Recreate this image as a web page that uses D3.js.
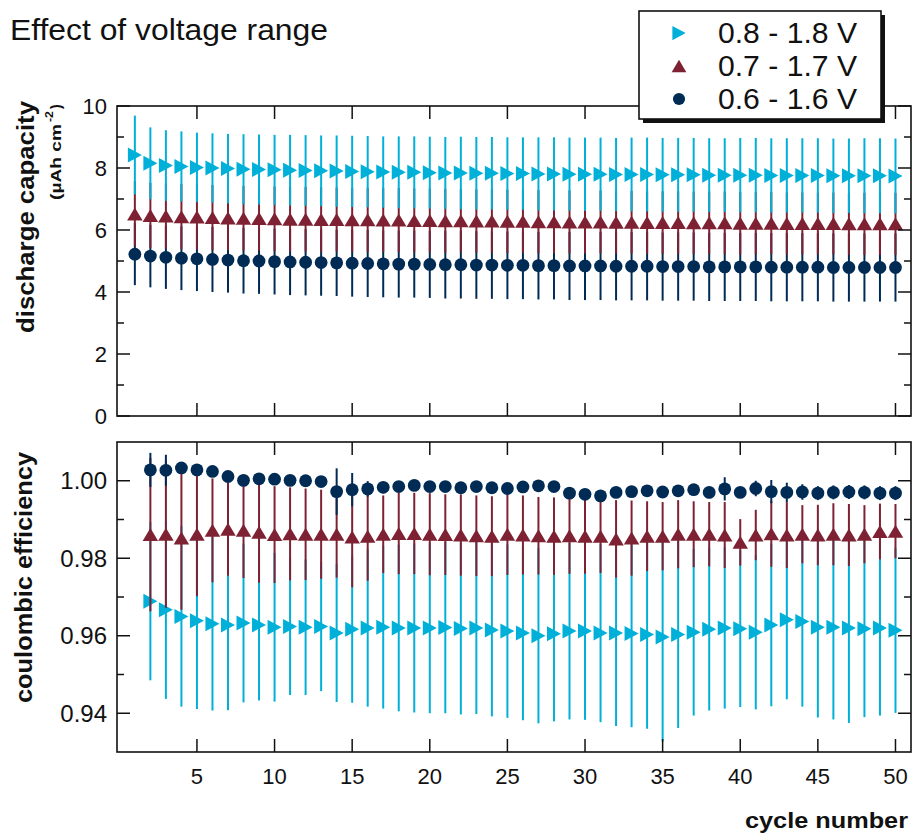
<!DOCTYPE html>
<html>
<head>
<meta charset="utf-8">
<script src="https://cdn.jsdelivr.net/npm/d3@7/dist/d3.min.js"></script>
<style>
  html, body { margin: 0; padding: 0; background: #fff; }
  svg { display: block; }
  text { font-family: "Liberation Sans", Arial, Helvetica, sans-serif; fill: #111; }
</style>
</head>
<body>
<svg id="chart" width="913" height="833"></svg>
<script>
// ---- data ---------------------------------------------------------------
const seriesNames = ["0.8 - 1.8 V", "0.7 - 1.7 V", "0.6 - 1.6 V"];
const seriesColors = ["#00b0d8", "#7e2233", "#002b55"];

// discharge capacity, cycles 1..50 (µAh cm^-2)
const capCycles = d3.range(1, 51);
const capHigh = [8.42,8.15,8.08,8.05,8.02,8.00,7.98,7.96,7.95,7.94,7.93,7.92,7.91,7.90,7.89,7.88,7.87,7.86,7.86,7.85,
                 7.84,7.84,7.83,7.83,7.82,7.82,7.81,7.81,7.80,7.80,7.80,7.79,7.79,7.79,7.78,7.78,7.78,7.77,7.77,7.77,
                 7.77,7.76,7.76,7.76,7.76,7.75,7.75,7.75,7.75,7.74];
const capHighErr = [1.27,1.16,1.14,1.13,1.12,1.12,1.12,1.13,1.13,1.13,1.14,1.14,1.14,1.15,1.15,1.15,1.15,1.16,1.16,1.16,
                    1.16,1.17,1.17,1.17,1.17,1.17,1.18,1.18,1.18,1.18,1.18,1.18,1.19,1.19,1.19,1.19,1.19,1.19,1.19,1.20,
                    1.20,1.20,1.20,1.20,1.20,1.20,1.20,1.21,1.21,1.21];
const capMid = [6.52,6.47,6.45,6.43,6.42,6.40,6.39,6.38,6.37,6.36,6.35,6.35,6.34,6.34,6.33,6.33,6.32,6.32,6.31,6.31,
                6.30,6.30,6.29,6.29,6.28,6.28,6.27,6.27,6.26,6.26,6.26,6.25,6.25,6.24,6.24,6.24,6.23,6.23,6.23,6.22,
                6.22,6.22,6.21,6.21,6.21,6.21,6.20,6.20,6.20,6.20];
const capMidErr = [1.05,1.05,1.05,1.05,1.05,1.05,1.04,1.04,1.04,1.04,1.04,1.04,1.04,1.03,1.03,1.03,1.03,1.03,1.03,1.03,
                   1.03,1.02,1.02,1.02,1.02,1.02,1.02,1.02,1.02,1.02,1.01,1.01,1.01,1.01,1.01,1.01,1.01,1.01,1.01,1.01,
                   1.00,1.00,1.00,1.00,1.00,1.00,1.00,1.00,1.00,1.00];
const capLow = [5.22,5.16,5.12,5.09,5.07,5.05,5.03,5.01,5.00,4.98,4.97,4.96,4.95,4.94,4.93,4.92,4.91,4.90,4.90,4.89,
                4.88,4.88,4.87,4.87,4.86,4.86,4.85,4.85,4.84,4.84,4.84,4.83,4.83,4.83,4.82,4.82,4.82,4.81,4.81,4.81,
                4.81,4.80,4.80,4.80,4.80,4.79,4.79,4.79,4.79,4.79];
const capLowErr = [1.00,1.01,1.02,1.03,1.04,1.05,1.05,1.06,1.06,1.06,1.07,1.07,1.07,1.07,1.08,1.08,1.08,1.08,1.08,1.08,
                   1.09,1.09,1.09,1.09,1.09,1.09,1.09,1.09,1.10,1.10,1.10,1.10,1.10,1.10,1.10,1.10,1.10,1.10,1.10,1.10,
                   1.10,1.10,1.10,1.10,1.10,1.10,1.10,1.10,1.10,1.10];

// coulombic efficiency, cycles 2..50
const ceCycles = d3.range(2, 51);
const ceHigh = [0.9689,0.9667,0.9650,0.9639,0.9631,0.9628,0.9633,0.9628,0.9622,0.9624,0.9622,0.9624,0.9607,0.9617,0.9620,
                0.9622,0.9620,0.9620,0.9620,0.9621,0.9619,0.9620,0.9615,0.9612,0.9607,0.9600,0.9605,0.9612,0.9612,0.9607,
                0.9607,0.9606,0.9603,0.9597,0.9603,0.9609,0.9617,0.9620,0.9618,0.9609,0.9628,0.9641,0.9637,0.9622,0.9622,
                0.9620,0.9618,0.9620,0.9614];
const ceHighErr = [0.0204,0.0230,0.0233,0.0228,0.0224,0.0220,0.0205,0.0195,0.0192,0.0177,0.0175,0.0167,0.0178,0.0190,0.0203,
                   0.0210,0.0215,0.0218,0.0220,0.0221,0.0222,0.0222,0.0223,0.0224,0.0225,0.0226,0.0226,0.0228,0.0229,0.0230,
                   0.0240,0.0242,0.0243,0.0270,0.0241,0.0215,0.0210,0.0208,0.0202,0.0199,0.0210,0.0205,0.0220,0.0233,0.0238,
                   0.0245,0.0228,0.0226,0.0213];
const ceMid = [0.9861,0.9862,0.9852,0.9862,0.9872,0.9875,0.9872,0.9867,0.9861,0.9863,0.9862,0.9862,0.9862,0.9855,0.9857,
               0.9862,0.9864,0.9864,0.9862,0.9861,0.9860,0.9858,0.9857,0.9862,0.9860,0.9858,0.9857,0.9858,0.9857,0.9857,
               0.9850,0.9852,0.9857,0.9857,0.9862,0.9862,0.9862,0.9860,0.9841,0.9860,0.9863,0.9860,0.9862,0.9860,0.9862,
               0.9860,0.9862,0.9869,0.9870];
const ceMidErr = [0.0198,0.0190,0.0185,0.0160,0.0134,0.0120,0.0123,0.0130,0.0125,0.0120,0.0118,0.0115,0.0112,0.0130,0.0115,
                  0.0100,0.0105,0.0105,0.0106,0.0104,0.0105,0.0104,0.0103,0.0105,0.0102,0.0100,0.0100,0.0098,0.0097,0.0095,
                  0.0100,0.0097,0.0090,0.0088,0.0088,0.0085,0.0083,0.0085,0.0060,0.0065,0.0085,0.0085,0.0075,0.0078,0.0080,
                  0.0080,0.0075,0.0072,0.0070];
const ceLow = [1.0028,1.0027,1.0033,1.0028,1.0024,1.0011,1.0001,1.0005,1.0004,1.0001,1.0000,0.9998,0.9972,0.9977,0.9979,
               0.9983,0.9985,0.9988,0.9985,0.9985,0.9982,0.9985,0.9982,0.9980,0.9984,0.9987,0.9985,0.9968,0.9965,0.9961,
               0.9970,0.9972,0.9974,0.9971,0.9974,0.9977,0.9970,0.9979,0.9970,0.9980,0.9972,0.9970,0.9971,0.9968,0.9970,
               0.9971,0.9970,0.9968,0.9968];
const ceLowErr = [0.0044,0.0040,0.0015,0.0012,0.0008,0.0008,0.0008,0.0006,0.0006,0.0005,0.0005,0.0005,0.0060,0.0043,0.0020,
                  0.0015,0.0010,0.0010,0.0010,0.0010,0.0010,0.0010,0.0010,0.0010,0.0010,0.0010,0.0010,0.0010,0.0010,0.0012,
                  0.0010,0.0010,0.0010,0.0010,0.0010,0.0012,0.0015,0.0030,0.0012,0.0020,0.0030,0.0025,0.0020,0.0018,0.0018,
                  0.0018,0.0018,0.0018,0.0018];

const xTicks = [5, 10, 15, 20, 25, 30, 35, 40, 45, 50];
const capTicks = [0, 2, 4, 6, 8, 10];
const capMinor = [1, 3, 5, 7, 9];
const ceTicks = [0.94, 0.96, 0.98, 1.00];
const ceMinor = [0.95, 0.97, 0.99];

// ---- layout -------------------------------------------------------------
const svg = d3.select("#chart");
const left = 117, right = 911;
const topPanel = { y0: 106, y1: 416 };
const botPanel = { y0: 442, y1: 752 };

const x = d3.scaleLinear().domain([-0.15, 51]).range([left, right]);
const yCap = d3.scaleLinear().domain([0, 10]).range([topPanel.y1, topPanel.y0]);
const yCe = d3.scaleLinear().domain([0.930, 1.010]).range([botPanel.y1, botPanel.y0]);

// marker shapes
const shapes = [
  (s) => { const w = 14 * s, h = 15 * s; return `M${-w/2},${-h/2}L${w/2},0L${-w/2},${h/2}Z`; },     // right-pointing triangle
  (s) => { const w = 15.5 * s, h = 13 * s; return `M0,${-h/2}L${w/2},${h/2}L${-w/2},${h/2}Z`; },   // upward triangle
  (s) => { const r = 6.4 * s; return `M${r},0A${r},${r} 0 1,1 ${-r},0A${r},${r} 0 1,1 ${r},0Z`; } // circle
];

function drawSeries(g, cycles, vals, errs, y, idx) {
  const data = cycles.map((c, i) => ({ c, v: vals[i], e: errs[i] }));
  const sg = g.append("g");
  sg.selectAll("line.err").data(data).join("line")
    .attr("class", "err")
    .attr("x1", d => x(d.c)).attr("x2", d => x(d.c))
    .attr("y1", d => y(d.v - d.e)).attr("y2", d => y(d.v + d.e))
    .attr("stroke", seriesColors[idx]).attr("stroke-width", 2);
  sg.selectAll("path.mk").data(data).join("path")
    .attr("class", "mk")
    .attr("d", shapes[idx](1))
    .attr("transform", d => `translate(${x(d.c)},${y(d.v)})`)
    .attr("fill", seriesColors[idx]);
}

function frame(g, p) {
  g.append("rect")
    .attr("x", left).attr("y", p.y0)
    .attr("width", right - left).attr("height", p.y1 - p.y0)
    .attr("fill", "none").attr("stroke", "#111").attr("stroke-width", 1.6);
}

// inward-pointing ticks on all four sides
function ticks(g, p, y, major, minor, fmt, fontSize) {
  const tg = g.append("g").attr("stroke", "#111").attr("stroke-width", 1.5);
  const maj = 13, mnr = 7;
  xTicks.forEach(t => {
    tg.append("line").attr("x1", x(t)).attr("x2", x(t)).attr("y1", p.y1).attr("y2", p.y1 - maj);
    tg.append("line").attr("x1", x(t)).attr("x2", x(t)).attr("y1", p.y0).attr("y2", p.y0 + maj);
  });
  major.forEach(t => {
    tg.append("line").attr("x1", left).attr("x2", left + maj).attr("y1", y(t)).attr("y2", y(t));
    tg.append("line").attr("x1", right).attr("x2", right - maj).attr("y1", y(t)).attr("y2", y(t));
  });
  minor.forEach(t => {
    tg.append("line").attr("x1", left).attr("x2", left + mnr).attr("y1", y(t)).attr("y2", y(t));
    tg.append("line").attr("x1", right).attr("x2", right - mnr).attr("y1", y(t)).attr("y2", y(t));
  });
  g.append("g").selectAll("text").data(major).join("text")
    .attr("x", left - 10).attr("y", d => y(d))
    .attr("dy", "0.36em")
    .attr("text-anchor", "end")
    .attr("font-size", fontSize)
    .text(fmt);
}

// ---- top panel: discharge capacity --------------------------------------
const gTop = svg.append("g");
drawSeries(gTop, capCycles, capLow, capLowErr, yCap, 2);
drawSeries(gTop, capCycles, capMid, capMidErr, yCap, 1);
drawSeries(gTop, capCycles, capHigh, capHighErr, yCap, 0);
frame(gTop, topPanel);
ticks(gTop, topPanel, yCap, capTicks, capMinor, d3.format("d"), 22);

// ---- bottom panel: coulombic efficiency ---------------------------------
const gBot = svg.append("g");
drawSeries(gBot, ceCycles, ceHigh, ceHighErr, yCe, 0);
drawSeries(gBot, ceCycles, ceMid, ceMidErr, yCe, 1);
drawSeries(gBot, ceCycles, ceLow, ceLowErr, yCe, 2);
frame(gBot, botPanel);
ticks(gBot, botPanel, yCe, ceTicks, ceMinor, d3.format(".2f"), 24);

// x tick labels
svg.append("g").selectAll("text").data(xTicks).join("text")
  .attr("x", d => x(d)).attr("y", 784)
  .attr("text-anchor", "middle")
  .attr("font-size", 22)
  .text(d => d);

// ---- titles and axis labels ---------------------------------------------
svg.append("text")
  .attr("x", 10).attr("y", 40)
  .attr("font-size", 30)
  .attr("textLength", 318).attr("lengthAdjust", "spacingAndGlyphs")
  .text("Effect of voltage range");

svg.append("text")
  .attr("x", 908).attr("y", 828)
  .attr("text-anchor", "end")
  .attr("font-size", 22).attr("font-weight", "bold")
  .attr("textLength", 163).attr("lengthAdjust", "spacingAndGlyphs")
  .text("cycle number");

svg.append("text")
  .attr("transform", "translate(34,333) rotate(-90)")
  .attr("font-size", 23).attr("font-weight", "bold")
  .attr("textLength", 232).attr("lengthAdjust", "spacingAndGlyphs")
  .text("discharge capacity");

const unit = svg.append("g").attr("transform", "translate(61,200) rotate(-90)")
  .attr("font-weight", "bold");
unit.append("text").attr("x", 0).attr("y", 0).attr("font-size", 14)
  .attr("textLength", 76).attr("lengthAdjust", "spacingAndGlyphs")
  .text("(µAh cm");
unit.append("text").attr("x", 78).attr("y", -8).attr("font-size", 10)
  .attr("textLength", 11).attr("lengthAdjust", "spacingAndGlyphs")
  .text("-2");
unit.append("text").attr("x", 91).attr("y", 0).attr("font-size", 14)
  .text(")");

svg.append("text")
  .attr("transform", "translate(32,703) rotate(-90)")
  .attr("font-size", 23).attr("font-weight", "bold")
  .attr("textLength", 251).attr("lengthAdjust", "spacingAndGlyphs")
  .text("coulombic efficiency");

// ---- legend -------------------------------------------------------------
const lg = svg.append("g");
lg.append("rect").attr("x", 643).attr("y", 15).attr("width", 242).attr("height", 108).attr("fill", "#111");
lg.append("rect").attr("x", 639).attr("y", 11).attr("width", 242).attr("height", 108)
  .attr("fill", "#fff").attr("stroke", "#111").attr("stroke-width", 1.6);
const rowY = [33, 66, 99];
seriesNames.forEach((name, i) => {
  lg.append("path").attr("d", shapes[i](0.95))
    .attr("transform", `translate(679,${rowY[i]})`)
    .attr("fill", seriesColors[i]);
  lg.append("text").attr("x", 718).attr("y", rowY[i]).attr("dy", "0.36em")
    .attr("font-size", 29)
    .attr("textLength", 139).attr("lengthAdjust", "spacingAndGlyphs")
    .text(name);
});
</script>
</body>
</html>
